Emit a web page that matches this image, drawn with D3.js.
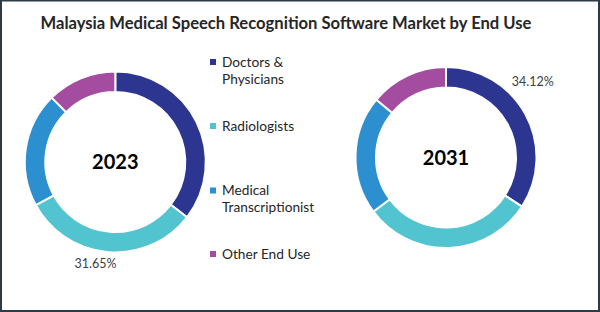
<!DOCTYPE html>
<html>
<head>
  <style>
    body {
        margin: 0;
        background: #fff;
    }
    svg {
        display: block;
    }
  </style>
</head>
<body>
<script src="https://d3js.org/d3.v7.min.js"></script>
<div id="chart"></div>
<script>
    // End use categories and their share (%) in each year
    const categories = ["Doctors & Physicians", "Radiologists", "Medical Transcriptionist", "Other End Use"];
    const legendLines = [["Doctors &", "Physicians"], ["Radiologists"], ["Medical", "Transcriptionist"], ["Other End Use"]];
    const years = ["2023", "2031"];
    const share2023 = [35.45, 31.65, 20.5, 12.4];
    const share2031 = [34.12, 30.7, 21.2, 13.98];
    const colors = ["#2c3590", "#52c4cf", "#2b8fd0", "#a44c9f"];

    const width = 600;
    const height = 312;

    const svg = d3.select("#chart").append("svg")
      .attr("width", width)
      .attr("height", height);

    // Frame
    svg.append("rect")
      .attr("x", 1)
      .attr("y", 0.5)
      .attr("width", width - 2)
      .attr("height", height - 1.5)
      .attr("fill", "#fff")
      .attr("stroke", "#2d3b46")
      .attr("stroke-width", 2);

    // Title
    svg.append("text")
      .attr("x", 286)
      .attr("y", 28.5)
      .attr("text-anchor", "middle")
      .style("font-family", "Lato, sans-serif")
      .style("font-weight", "bold")
      .style("font-size", "16.6px")
      .style("fill", "#262626")
      .text("Malaysia Medical Speech Recognition Software Market by End Use");

    const pie = d3.pie().sort(null).value(d => d);
    const arc = d3.arc().innerRadius(70).outerRadius(90.5);

    // One donut per year, with the single value label that the original shows
    const donuts = [
      { year: years[0], values: share2023, cx: 115.3, cy: 162, labelIndex: 1, labelAngle: 191, labelRadius: 104 },
      { year: years[1], values: share2031, cx: 446, cy: 157.5, labelIndex: 0, labelAngle: 49, labelRadius: 115 }
    ];

    donuts.forEach(d => {
      const g = svg.append("g")
        .attr("transform", `translate(${d.cx}, ${d.cy})`);

      g.selectAll("path")
        .data(pie(d.values))
        .join("path")
        .attr("d", arc)
        .attr("fill", (s, i) => colors[i])
        .attr("stroke", "#fff")
        .attr("stroke-width", 2);

      g.append("text")
        .attr("y", 7)
        .attr("text-anchor", "middle")
        .style("font-family", "Lato, sans-serif")
        .style("font-weight", "bold")
        .style("font-size", "20px")
        .style("fill", "#000")
        .text(d.year);

      const p = d3.pointRadial(d.labelAngle * Math.PI / 180, d.labelRadius);
      g.append("text")
        .attr("x", p[0])
        .attr("y", p[1] + 4)
        .attr("text-anchor", "middle")
        .style("font-family", "Lato, sans-serif")
        .style("font-size", "12.5px")
        .style("fill", "#404040")
        .text(d.values[d.labelIndex].toFixed(2) + "%");
    });

    // Legend
    const legendY = [62, 126, 190.5, 254];
    const legend = svg.append("g")
      .attr("transform", "translate(210, 0)");

    categories.forEach((c, i) => {
      legend.append("rect")
        .attr("x", 0)
        .attr("y", legendY[i] - 3)
        .attr("width", 6)
        .attr("height", 6)
        .attr("fill", colors[i]);

      legend.append("text")
        .attr("x", 12)
        .attr("y", legendY[i] + 4.5)
        .style("font-family", "Lato, sans-serif")
        .style("font-size", "13.7px")
        .style("fill", "#262626")
        .selectAll("tspan")
        .data(legendLines[i])
        .join("tspan")
        .attr("x", 12)
        .attr("dy", (t, j) => j === 0 ? 0 : 17)
        .text(t => t);
    });
</script>
</body>
</html>
